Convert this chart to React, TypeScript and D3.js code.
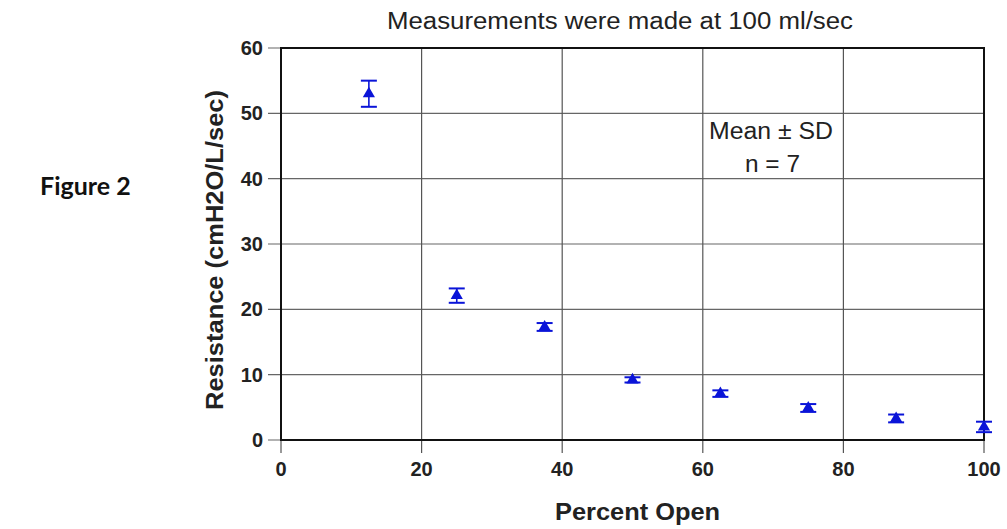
import React from "react";
import * as d3 from "d3";

const percentOpen = [12.5, 25, 37.5, 50, 62.5, 75, 87.5, 100];
const meanResistance = [53.0, 22.1, 17.3, 9.2, 7.1, 4.9, 3.3, 2.0];
const sdResistance = [2.0, 1.1, 0.6, 0.4, 0.5, 0.6, 0.6, 0.8];
const xTicks = [0, 20, 40, 60, 80, 100];
const yTicks = [0, 10, 20, 30, 40, 50, 60];

const W = 1007;
const H = 529;
const M = { left: 281, right: 23, top: 48, bottom: 89 };

export default function App() {
  const x = d3.scaleLinear().domain([0, 100]).range([M.left, W - M.right]);
  const y = d3.scaleLinear().domain([0, 60]).range([H - M.bottom, M.top]);
  const tri = d3.symbol(d3.symbolTriangle, 64)() as string;
  const sans = "'Liberation Sans', Arial, sans-serif";
  const x0 = x(0), x1 = x(100), y0 = y(0), y1 = y(60);
  const blue = "#0a14d8";
  return (
    <svg width={W} height={H} style={{ position: "absolute", left: 0, top: 0, background: "#fff" }}>
      <rect x={0} y={0} width={W} height={H} fill="#fff" />
      <text x={387} y={29} fontFamily={sans} fontSize={23} fill="#222" textLength={466} lengthAdjust="spacingAndGlyphs">
        Measurements were made at 100 ml/sec
      </text>
      <text x={40} y={195} fontFamily="Lato, 'Open Sans', sans-serif" fontWeight="bold" fontSize={25} fill="#111">
        Figure 2
      </text>
      {/* grid */}
      {yTicks.map((t) => (
        <line key={"gy" + t} x1={x0 - 13} x2={x1} y1={y(t)} y2={y(t)} stroke="#666" strokeWidth={1.2} />
      ))}
      {xTicks.map((t) => (
        <line key={"gx" + t} x1={x(t)} x2={x(t)} y1={y1} y2={y0 + 13} stroke="#555" strokeWidth={1.2} />
      ))}
      <rect x={x0} y={y1} width={x1 - x0} height={y0 - y1} fill="none" stroke="#111" strokeWidth={2} />
      {/* tick labels */}
      {yTicks.map((t) => (
        <text key={"ly" + t} x={263} y={y(t) + 7} textAnchor="end" fontFamily={sans} fontWeight="bold" fontSize={20} fill="#222">
          {t}
        </text>
      ))}
      {xTicks.map((t) => (
        <text key={"lx" + t} x={x(t)} y={476} textAnchor="middle" fontFamily={sans} fontWeight="bold" fontSize={20} fill="#222">
          {t}
        </text>
      ))}
      <text x={555} y={520} fontFamily={sans} fontWeight="bold" fontSize={23} fill="#222" textLength={165} lengthAdjust="spacingAndGlyphs">
        Percent Open
      </text>
      <text
        transform={`translate(223, ${(y0 + y1) / 2 + 6}) rotate(-90)`}
        x={-160}
        fontFamily={sans}
        fontWeight="bold"
        fontSize={24}
        fill="#222"
        textLength={320}
        lengthAdjust="spacingAndGlyphs"
      >
        Resistance (cmH2O/L/sec)
      </text>
      <text x={709} y={139} fontFamily={sans} fontSize={23} fill="#222" textLength={124} lengthAdjust="spacingAndGlyphs">
        Mean ± SD
      </text>
      <text x={745} y={172} fontFamily={sans} fontSize={23} fill="#222" textLength={55} lengthAdjust="spacingAndGlyphs">
        n = 7
      </text>
      {/* data */}
      {percentOpen.map((p, i) => {
        const cx = x(p);
        const top = y(meanResistance[i] + sdResistance[i]);
        const bot = y(meanResistance[i] - sdResistance[i]);
        return (
          <g key={"p" + i}>
            <line x1={cx} x2={cx} y1={top} y2={bot} stroke={blue} strokeWidth={1.6} />
            <line x1={cx - 8} x2={cx + 8} y1={top} y2={top} stroke={blue} strokeWidth={2} />
            <line x1={cx - 8} x2={cx + 8} y1={bot} y2={bot} stroke={blue} strokeWidth={2} />
            <path d={tri} transform={`translate(${cx}, ${y(meanResistance[i])})`} fill={blue} />
          </g>
        );
      })}
    </svg>
  );
}
